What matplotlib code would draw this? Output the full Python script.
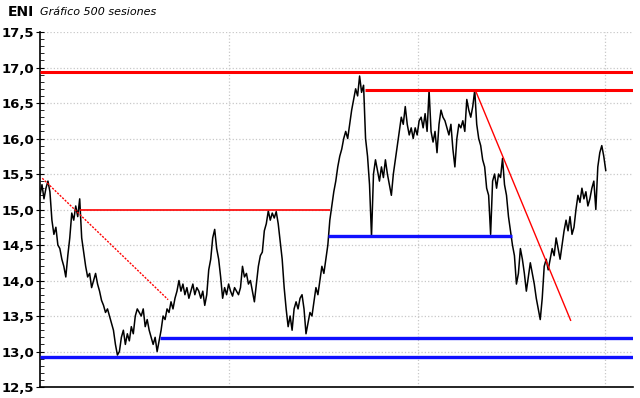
import numpy as np
import matplotlib
matplotlib.use("Agg")
import matplotlib.pyplot as plt
from matplotlib.ticker import MultipleLocator, FuncFormatter

# ============================================================================
# Datos
# ============================================================================

titulo = "ENI"
subtitulo = "Gráfico 500 sesiones"
n_sesiones = 500

# cierres aproximados, de izquierda a derecha
cierre = [
    15.2, 15.35, 15.15, 15.3, 15.4, 15.25, 14.85, 14.65, 14.75, 14.5,
    14.45, 14.3, 14.2, 14.05, 14.35, 14.6, 14.95, 14.85, 15.05, 14.9,
    15.15, 14.6, 14.4, 14.2, 14.05, 14.1, 13.9, 14.0, 14.1, 13.95,
    13.85, 13.72, 13.65, 13.55, 13.6, 13.5, 13.4, 13.3, 13.1, 12.95,
    13.0, 13.2, 13.3, 13.1, 13.25, 13.15, 13.35, 13.25, 13.5, 13.6,
    13.55, 13.5, 13.6, 13.35, 13.45, 13.3, 13.2, 13.1, 13.2, 13.0,
    13.15, 13.3, 13.5, 13.45, 13.6, 13.55, 13.7, 13.6, 13.75, 13.85,
    14.0, 13.85, 13.95, 13.8, 13.9, 13.75, 13.85, 13.95, 13.8, 13.9,
    13.85, 13.75, 13.85, 13.65, 13.8, 14.15, 14.3, 14.6, 14.72, 14.45,
    14.3, 14.05, 13.75, 13.9, 13.8, 13.95, 13.85, 13.78, 13.9, 13.85,
    13.8, 13.9, 14.2, 14.05, 14.1, 13.95, 14.0, 13.85, 13.7, 13.95,
    14.2, 14.35, 14.4, 14.7, 14.8, 14.98, 14.85, 14.95, 14.88, 14.97,
    14.8, 14.55, 14.3, 13.9, 13.6, 13.35, 13.5, 13.3, 13.6, 13.7,
    13.6, 13.75, 13.8, 13.6, 13.25, 13.4, 13.55, 13.5, 13.7, 13.9,
    13.8, 14.0, 14.2, 14.1, 14.3, 14.5, 14.85, 15.05, 15.25, 15.4,
    15.6, 15.75, 15.85, 16.0, 16.1, 16.0, 16.2, 16.4, 16.55, 16.7,
    16.6, 16.88, 16.65, 16.75, 16.0, 15.75, 15.35, 14.62, 15.5, 15.7,
    15.55, 15.4, 15.6, 15.45, 15.7, 15.5, 15.35, 15.2, 15.5, 15.7,
    15.9, 16.1, 16.3, 16.2, 16.45, 16.2, 16.05, 16.15, 16.0, 16.15,
    16.05, 16.25, 16.3, 16.15, 16.35, 16.1, 16.68, 16.1, 15.95, 16.1,
    15.8, 16.2, 16.4, 16.3, 16.25, 16.15, 16.05, 16.2, 15.85, 15.6,
    16.0, 16.2, 16.15, 16.25, 16.1, 16.55, 16.4, 16.3, 16.45, 16.68,
    16.2, 16.0, 15.9, 15.7, 15.6, 15.3, 15.2, 14.65, 15.4, 15.5,
    15.3, 15.5, 15.45, 15.72, 15.35, 15.2, 14.9, 14.7, 14.5, 14.35,
    13.95, 14.1, 14.45, 14.3, 14.1, 13.85, 14.05, 14.25, 14.1, 13.95,
    13.75, 13.6, 13.45, 13.75, 14.2, 14.3, 14.15, 14.3, 14.45, 14.35,
    14.6, 14.45, 14.3, 14.5, 14.7, 14.85, 14.7, 14.9, 14.65, 14.75,
    15.0, 15.2, 15.1, 15.3, 15.15, 15.25, 15.05, 15.15, 15.3, 15.4,
    15.0, 15.6, 15.8, 15.9, 15.75, 15.55,
]

# soportes y resistencias: (nivel, sesión inicio, sesión fin)
resistencias = [(16.93, 0, 523), (16.69, 287, 523), (15.0, 35, 256)]
soportes = [(14.62, 254, 416), (13.19, 106, 523), (12.92, 0, 523)]
grosor_resistencias = [2.2, 2.2, 1.2]

# directrices bajistas: (sesión, valor) inicio -> fin
directriz_punteada = [(2, 15.44), (113, 13.73)]
directriz_solida = [(384, 16.68), (468, 13.44)]

# separadores verticales (sin etiqueta)
separadores = [167, 333, 498]

# ============================================================================
# Gráfico
# ============================================================================

fig = plt.figure(figsize=(6.4, 3.98), dpi=100)
ax = fig.add_axes([0.0625, 0.0276, 0.9265, 0.892])

sesion = np.linspace(0, n_sesiones - 1, len(cierre))
ax.plot(sesion, cierre, color="black", lw=1.1, zorder=3)

for (nivel, x0, x1), lw in zip(resistencias, grosor_resistencias):
    ax.hlines(nivel, x0, x1, color="#ff0000", lw=lw, zorder=4)
for nivel, x0, x1 in soportes:
    ax.hlines(nivel, x0, x1, color="#1010ff", lw=2.4, zorder=4)

(px0, py0), (px1, py1) = directriz_punteada
ax.plot([px0, px1], [py0, py1], color="#ff0000", lw=1, ls=(0, (1.5, 1)), zorder=4)
(sx0, sy0), (sx1, sy1) = directriz_solida
ax.plot([sx0, sx1], [sy0, sy1], color="#ff0000", lw=1, zorder=4)

ax.set_xlim(0, 523)
ax.set_ylim(12.5, 17.5)

ax.yaxis.set_major_locator(MultipleLocator(0.5))
ax.yaxis.set_minor_locator(MultipleLocator(0.1))
ax.yaxis.set_major_formatter(
    FuncFormatter(lambda v, p: f"{v:.1f}".replace(".", ",")))
ax.tick_params(axis="y", which="major", direction="inout", length=6,
               labelsize=9.5, pad=1)
ax.tick_params(axis="y", which="minor", direction="in", length=3)
for lab in ax.get_yticklabels():
    lab.set_fontweight("bold")

ax.set_xticks(separadores)
ax.set_xticklabels([])
ax.tick_params(axis="x", length=0)

ax.grid(True, which="major", color="#c8c8c8", ls=":", lw=0.9)

for s in ["top", "right"]:
    ax.spines[s].set_visible(False)
ax.spines["left"].set_linewidth(1.2)
ax.spines["bottom"].set_linewidth(1.2)

fig.text(8 / 640, 1 - 12 / 398, titulo, fontsize=10, fontweight="bold",
         va="center", ha="left")
fig.text(40 / 640, 1 - 12 / 398, subtitulo, fontsize=8, style="italic",
         va="center", ha="left")

fig.savefig("out.png", dpi=100)
